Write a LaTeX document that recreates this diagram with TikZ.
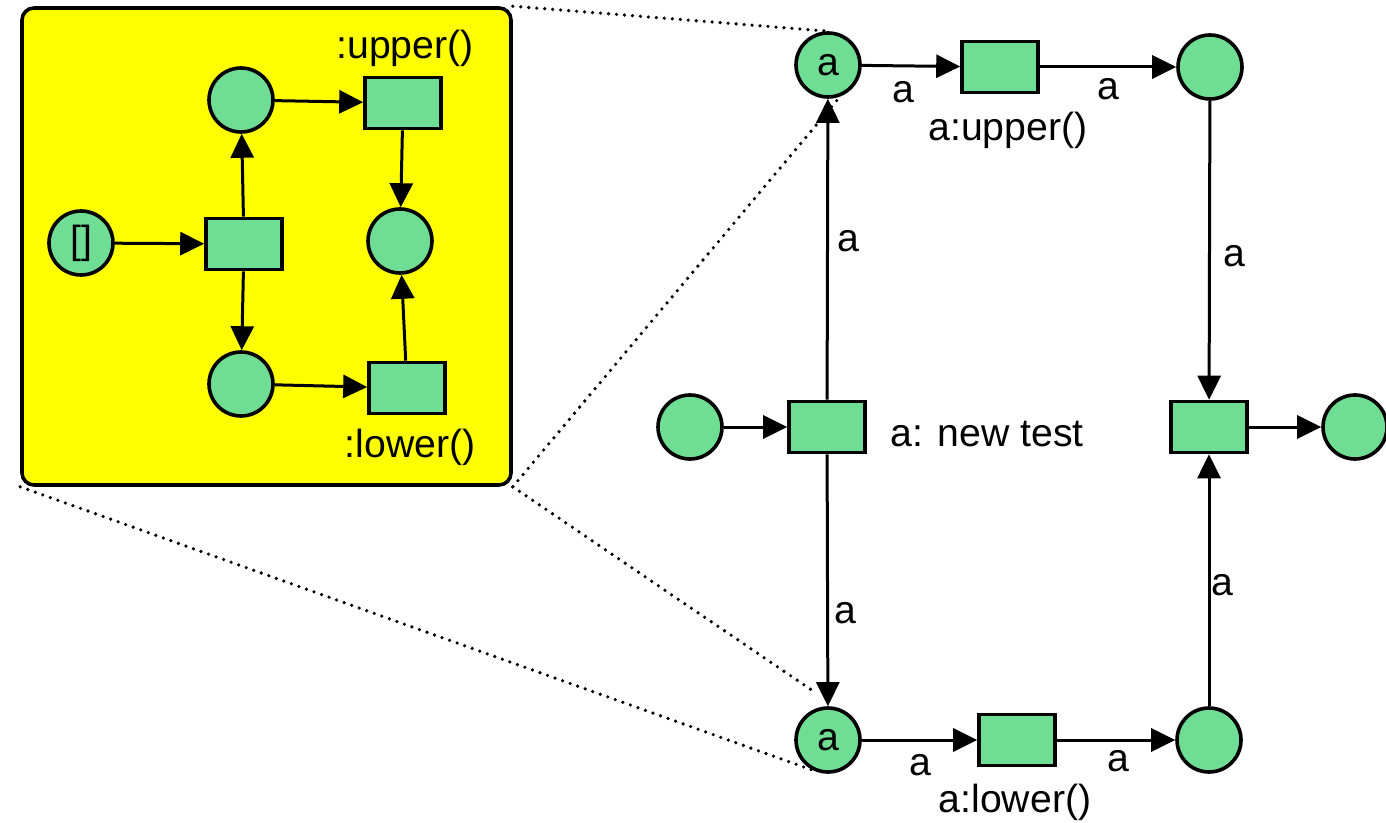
\documentclass[tikz,border=0pt]{standalone}
\usepackage{fontspec}
\setmainfont{Liberation Sans}
\usetikzlibrary{arrows.meta}
\definecolor{pgreen}{RGB}{112,221,148}
\definecolor{pyellow}{RGB}{255,255,0}
\tikzset{
  place/.style={circle,draw=black,fill=pgreen,line width=1.8pt,minimum size=32pt,inner sep=0pt,font=\fontsize{19.6}{23}\selectfont},
  trans/.style={rectangle,draw=black,fill=pgreen,line width=1.8pt,minimum width=38pt,minimum height=25.5pt,inner sep=0pt},
  arc/.style={line width=1.5pt,-{Triangle[length=12pt,width=11.5pt]}},
  lbl/.style={inner sep=0pt,font=\fontsize{19.6}{23}\selectfont},
  zoomline/.style={line width=1.8pt,dash pattern=on 0pt off 4pt,line cap=round},
  zoombox/.style={rectangle,draw=black,fill=pyellow,line width=1.8pt,rounded corners=6pt,minimum width=244.5pt,minimum height=238.5pt,inner sep=0pt}
}
\begin{document}
\begin{tikzpicture}[x=0.5pt,y=-0.5pt]
\useasboundingbox (0,0) rectangle (1386,823);
% zoomed box
\node[zoombox] (box) at (266.5,246.5) {};
% inner net
\node[place] (p0) at (81,243) {[]};
\node[trans] (t0) at (244,244) {};
\node[place] (pu) at (241,100) {};
\node[place] (pl) at (241,384) {};
\node[trans] (tu) at (403,103) {};
\node[trans] (tl) at (407,388) {};
\node[place] (pr) at (400,241) {};
\node[lbl] (lu) at (405,48) {:upper()};
\node[lbl] (ll) at (410,447) {:lower()};
\draw[arc] (p0) -- (t0);
\draw[arc] (t0) -- (pu);
\draw[arc] (t0) -- (pl);
\draw[arc] (pu) -- (tu);
\draw[arc] (pl) -- (tl);
\draw[arc] (tu) -- (pr);
\draw[arc] (tl) -- (pr);
% main net
\node[place] (A) at (828,65) {a};
\node[trans] (TU) at (1000,67) {};
\node[place] (B) at (1210,67) {};
\node[place] (C) at (690,427) {};
\node[trans] (TM) at (827,427) {};
\node[trans] (TR) at (1209,427) {};
\node[place] (D) at (1355,427) {};
\node[place] (E) at (828,740) {a};
\node[trans] (TL) at (1017,740) {};
\node[place] (F) at (1209,740) {};
\draw[arc] (A) -- (TU);
\draw[arc] (TU) -- (B);
\draw[arc] (TM) -- (A);
\draw[arc] (TM) -- (E);
\draw[arc] (C) -- (TM);
\draw[arc] (B) -- (TR);
\draw[arc] (F) -- (TR);
\draw[arc] (TR) -- (D);
\draw[arc] (E) -- (TL);
\draw[arc] (TL) -- (F);
% labels
\node[lbl] (l1) at (903,92) {a};
\node[lbl] (l2) at (1108,89) {a};
\node[lbl] (l3) at (1008,130) {a:upper()};
\node[lbl] (l4) at (848,241) {a};
\node[lbl] (l5) at (1234,256) {a};
\node[lbl,anchor=west] (l6) at (890,434) {a: new test};
\node[lbl] (l7) at (845,613) {a};
\node[lbl] (l8) at (1222,585) {a};
\node[lbl] (l9) at (920,765) {a};
\node[lbl] (l10) at (1118,761) {a};
\node[lbl] (l11) at (1015,802) {a:lower()};
% zoom lines
\coordinate (e1) at (816,693);
\draw[zoomline] (box.north east) -- (A.north);
\draw[zoomline] (box.south east) -- (A.-69);
\draw[zoomline] (box.south east) -- (e1);
\draw[zoomline] (box.south west) -- (E.-116);
\end{tikzpicture}
\end{document}
